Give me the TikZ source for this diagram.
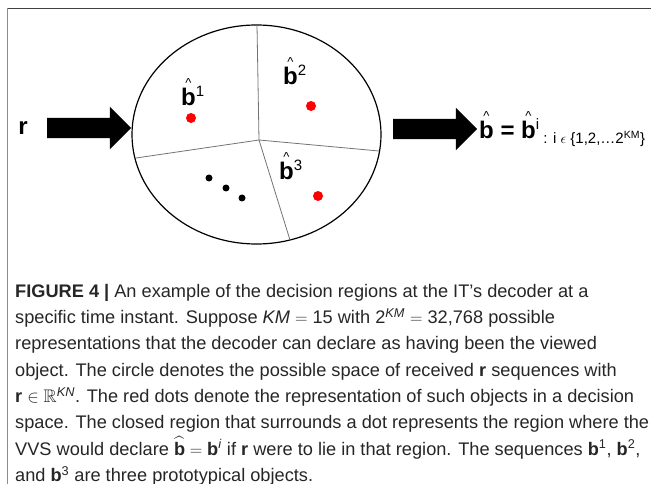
\documentclass[tikz,border=0pt]{standalone}
\usepackage{amssymb}
\usepackage{fontspec}
\setmainfont{Liberation Sans}
\usetikzlibrary{shapes.geometric,shapes.arrows}
\tikzset{
  region/.style={draw=black!55, line width=0.8pt},
  reddot/.style={circle, fill=red, inner sep=0pt, minimum size=10pt},
  blackdot/.style={circle, fill=black, inner sep=0pt, minimum size=7pt},
  bigarrow/.style={single arrow, fill=black, inner xsep=0pt, inner ysep=10pt,
    minimum height=84pt, single arrow head extend=11pt},
  biglabel/.style={inner sep=0pt, anchor=base west, font=\fontsize{24}{24}\selectfont},
}
\newcommand{\bhat}{\ooalign{\textbf{b}\cr\hidewidth\raisebox{18pt}{\fontsize{13}{13}\selectfont\textasciicircum}\hidewidth\cr}}
\newcommand{\supr}[1]{\raisebox{0.4em}{\fontsize{15}{15}\selectfont #1}}
\begin{document}
\begin{tikzpicture}[x=1pt,y=-1pt]
\useasboundingbox (0,0) rectangle (651,484);
% frame
\draw[black!75, line width=1.5pt] (7,8.5) -- (651,8.5);
\draw[black!45, line width=1.5pt] (7.5,8) -- (7.5,484);
% input
\node[font=\fontsize{24}{24}\selectfont\bfseries, inner sep=0pt] (r) at (23,128) {r};
\node[bigarrow] (arrowin) at (84,128) {};
% space of received sequences
\node[ellipse, draw, line width=1.2pt, minimum width=249pt, minimum height=219pt] (space) at (256.5,134.5) {};
\coordinate (J) at (259,140);
\coordinate (Jtop) at (257,25);
\coordinate (Jleft) at (136,158);
\coordinate (Jright) at (379,151);
\coordinate (Jbot) at (290,240);
\draw[region] (J) -- (Jtop);
\draw[region] (J) -- (Jleft);
\draw[region] (J) -- (Jright);
\draw[region] (J) -- (Jbot);
% prototypes
\node[biglabel] (b1) at (181,106) {\bhat\supr{1}};
\node[biglabel] (b2) at (283,85) {\bhat\supr{2}};
\node[biglabel] (b3) at (279,180) {\bhat\supr{3}};
\node[reddot] (d1) at (191,118) {};
\node[reddot] (d2) at (311,106) {};
\node[reddot] (d3) at (318,196) {};
\node[blackdot] (e1) at (209,178) {};
\node[blackdot] (e2) at (226,188) {};
\node[blackdot] (e3) at (242,198) {};
% output
\node[bigarrow] (arrowout) at (430,129) {};
\node[biglabel] (bout) at (479,139) {\bhat\ \textbf{=} \bhat\supr{i}\raisebox{-0.2em}{\fontsize{15}{15}\selectfont\ : i $\epsilon$ \{1,2,\dots2\textsuperscript{KM}\}}};
% caption
\node[anchor=north west, inner sep=0pt, align=left, text=black!85,
  font=\fontsize{18.2}{26.3}\selectfont] (caption) at (15,284) {%
\textbf{FIGURE 4 |} An example of the decision regions at the IT's decoder at a\\
specific time instant. Suppose \textit{KM} $=$ 15 with 2\textsuperscript{\textit{KM}} $=$ 32,768 possible\\
representations that the decoder can declare as having been the viewed\\
object. The circle denotes the possible space of received \textbf{r} sequences with\\
\textbf{r} $\in\mathbb{R}$\textsuperscript{\textit{KN}}. The red dots denote the representation of such objects in a decision\\
space. The closed region that surrounds a dot represents the region where the\\
VVS would declare $\widehat{\textbf{b}}=\textbf{b}$\textsuperscript{\textit{i}} if \textbf{r} were to lie in that region. The sequences \textbf{b}\textsuperscript{1}, \textbf{b}\textsuperscript{2},\\
and \textbf{b}\textsuperscript{3} are three prototypical objects.};
\end{tikzpicture}
\end{document}
